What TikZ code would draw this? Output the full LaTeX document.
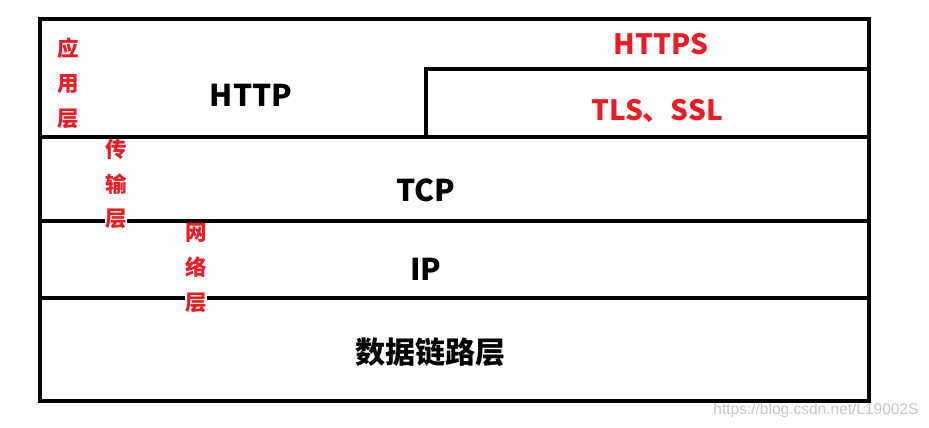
\documentclass[tikz,border=0pt]{standalone}
\usepackage{fontspec}
\setmainfont{Noto Sans CJK SC}
\newfontfamily\wmfont{Liberation Sans}
\usepackage{tikz}
\usetikzlibrary{positioning}
\definecolor{tagred}{RGB}{237,28,36}

\begin{document}
\begin{tikzpicture}
                    [x=1pt, y=-1pt,
                    frame/.style={line width=3.8pt},
                    sep/.style={line width=3.2pt},
                    layer/.style={font=\fontsize{30}{30}\selectfont\bfseries},
                    sec/.style={font=\fontsize{28}{28}\selectfont\bfseries,
                        text=tagred},
                    tag/.style={font=\fontsize{21.5}{35}\selectfont\bfseries,
                        text=tagred, fill=white, inner sep=0.5pt,
                        align=center},
                    wm/.style={font=\wmfont\fontsize{15.5}{15.5}\selectfont,
                        text=black!22}]
                    
                    \useasboundingbox (0,0) rectangle (929,428);
                    
                    % layers
                    \draw[frame] (40,19) rectangle (869,401);
                    \draw[sep] (40,221) -- (869,221);
                    \draw[sep] (40,298) -- (869,298);
                    
                    % side tags
                    \node[tag] (apptag) at (68,83)
                        {应\\用\\层};
                    \node[tag] (transtag) at (116,184)
                        {传\\输\\层};
                    \node[tag] (nettag) at (196,268)
                        {网\\络\\层};
                    
                    \draw[sep] (40,137) -- (869,137);
                    \draw[sep] (426,137) |- (869,69);
                    
                    \node[layer] (http) at (251,95) {HTTP};
                    \node[sec] (https) at (661,44) {HTTPS};
                    \node[sec] (tls) at (657,111) {TLS、SSL};
                    \node[layer] (tcp) at (426,190) {TCP};
                    \node[layer] (ip) at (426,269) {IP};
                    \node[layer] (link) at (430,352) {数据链路层};
                    
                    \node[wm] (mark) at (816,410)
                        {https://blog.csdn.net/L19002S};
                \end{tikzpicture}
\end{document}
